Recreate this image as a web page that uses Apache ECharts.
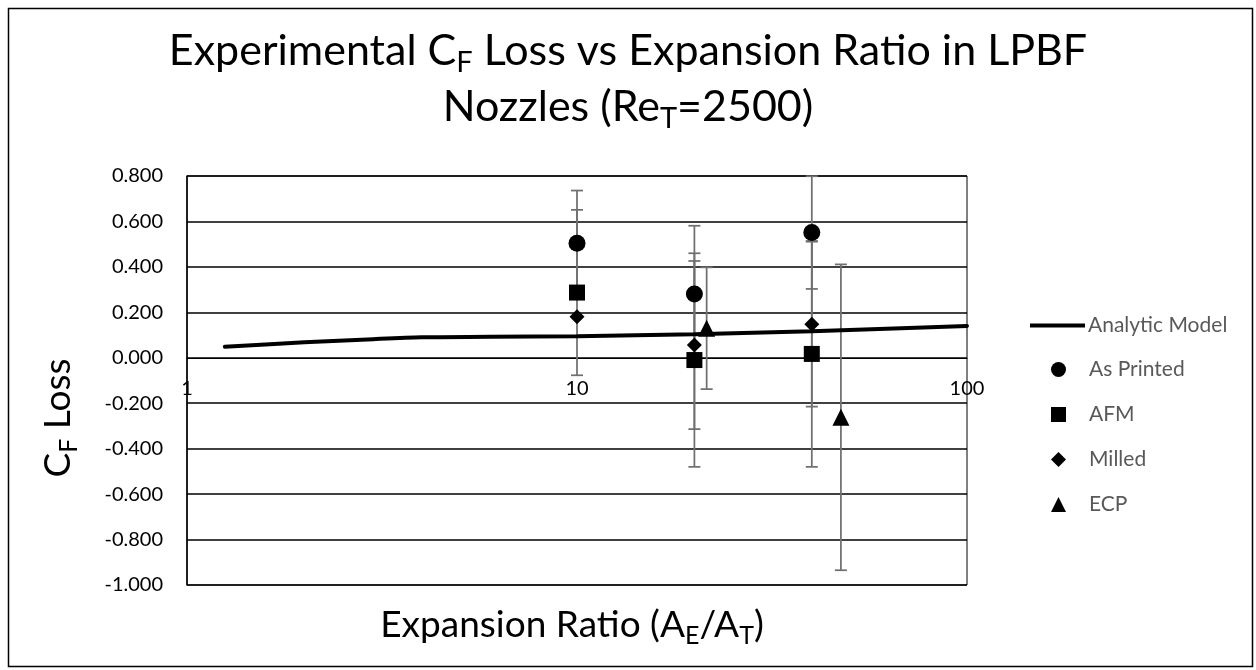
<!DOCTYPE html>
<html>
<head>
<meta charset="utf-8">
<script src="https://cdn.jsdelivr.net/npm/echarts@6/dist/echarts.min.js"></script>
<style>
  html, body { margin: 0; padding: 0; background: #fff; }
  #chart { width: 1256px; height: 670px; }
</style>
</head>
<body>
<div id="chart"></div>
<script>
// analytic model curve
const analyticX = [1.25, 2, 3, 4, 6, 10, 20, 40, 100];
const analyticY = [0.049, 0.068, 0.082, 0.090, 0.092, 0.095, 0.104, 0.117, 0.140];

// experimental points: expansion ratio, CF loss, +/- error
const printedX = [10, 20, 40];
const printedY = [0.504, 0.281, 0.551];
const printedErr = [0.232, 0.300, 0.248];

const afmX = [10, 20, 40];
const afmY = [0.287, -0.010, 0.017];
const afmErr = [0.364, 0.470, 0.497];

const milledX = [10, 20, 40];
const milledY = [0.181, 0.056, 0.148];
const milledErr = [0, 0.370, 0.363];

const ecpX = [21.5, 47.5];
const ecpY = [0.130, -0.262];
const ecpErr = [0.268, 0.673];

const yTicks = { min: -1, max: 0.8, step: 0.2 };

const FONT = 'Lato';
const chart = echarts.init(document.getElementById('chart'));

const pts = (xs, ys) => xs.map((x, i) => [x, ys[i]]);
const errs = (xs, ys, es) => xs.map((x, i) => [x, ys[i], es[i]]);

function errorSeries(name, data) {
  return {
    name: name + ' err',
    type: 'custom',
    z: 2,
    silent: true,
    data: data,
    renderItem: function (params, api) {
      const x = api.value(0), y = api.value(1), e = api.value(2);
      if (!e) return null;
      const hi = api.coord([x, y + e]);
      const lo = api.coord([x, y - e]);
      const cap = 6;
      const style = { stroke: '#707070', lineWidth: 1.75 };
      return {
        type: 'group',
        children: [
          { type: 'line', shape: { x1: hi[0], y1: hi[1], x2: lo[0], y2: lo[1] }, style },
          { type: 'line', shape: { x1: hi[0] - cap, y1: hi[1], x2: hi[0] + cap, y2: hi[1] }, style },
          { type: 'line', shape: { x1: lo[0] - cap, y1: lo[1], x2: lo[0] + cap, y2: lo[1] }, style }
        ]
      };
    }
  };
}

function markerSeries(name, symbol, size, data) {
  return {
    name: name,
    type: 'scatter',
    z: 4,
    symbol: symbol,
    symbolSize: size,
    itemStyle: { color: '#000', opacity: 1 },
    data: data
  };
}

// rich styles for text with a subscript (sub pushed down with top padding)
const subRich = (size) => {
  const sub = Math.round(size * 0.68);
  return {
    a: { fontFamily: FONT, fontSize: size, color: '#000', lineHeight: Math.round(size * 1.4), verticalAlign: 'top' },
    s: { fontFamily: FONT, fontSize: sub, color: '#000', lineHeight: sub, verticalAlign: 'top',
         padding: [Math.round(size * 0.42), 0, 0, 0] }
  };
};

const option = {
  animation: false,
  backgroundColor: '#fff',
  graphic: [
    {
      type: 'rect', left: 6, top: 6, z: 0,
      shape: { width: 1244, height: 658 },
      style: { fill: 'none', stroke: '#000', lineWidth: 1.5 }
    },
    {
      type: 'text', x: 628, y: 60, z: 10,
      style: {
        text: '{a|Experimental C}{s|F}{a| Loss vs Expansion Ratio in LPBF}',
        rich: subRich(43), align: 'center', verticalAlign: 'middle'
      }
    },
    {
      type: 'text', x: 628, y: 116, z: 10,
      style: {
        text: '{a|Nozzles (Re}{s|T}{a|=2500)}',
        rich: subRich(43), align: 'center', verticalAlign: 'middle'
      }
    },
    {
      type: 'text', x: 572, y: 633, z: 10,
      style: {
        text: '{a|Expansion Ratio (A}{s|E}{a|/A}{s|T}{a|)}',
        rich: subRich(37), align: 'center', verticalAlign: 'middle'
      }
    },
    {
      type: 'text', x: 66, y: 418, z: 10, rotation: Math.PI / 2,
      style: {
        text: '{a|C}{s|F}{a| Loss}',
        rich: subRich(37), align: 'center', verticalAlign: 'middle'
      }
    }
  ],
  grid: {
    left: 187, top: 176, right: 289, bottom: 85,
    show: true, borderColor: '#000', borderWidth: 1
  },
  legend: [
    {
      data: [{ name: 'Analytic Model', icon: 'rect' }],
      orient: 'vertical',
      left: 1025, top: 310,
      itemWidth: 55, itemHeight: 4,
      textStyle: { fontFamily: FONT, fontSize: 21, color: '#595959', padding: [0, 0, 0, -2] }
    },
    {
      data: ['As Printed', 'AFM', 'Milled', 'ECP'],
      orient: 'vertical',
      left: 1046, top: 354,
      itemWidth: 15, itemHeight: 15, itemGap: 24,
      textStyle: { fontFamily: FONT, fontSize: 21, color: '#595959', padding: [0, 0, 0, 18] }
    }
  ],
  xAxis: {
    type: 'log',
    logBase: 10,
    min: 1,
    max: 100,
    offset: -227,
    axisLine: { show: true, onZero: false, lineStyle: { color: '#000', width: 1 } },
    axisTick: { show: false },
    axisLabel: { fontFamily: FONT, fontSize: 20, color: '#000', margin: 21 },
    splitLine: { show: false },
    minorSplitLine: { show: false }
  },
  yAxis: {
    type: 'value',
    min: yTicks.min,
    max: yTicks.max,
    interval: yTicks.step,
    axisLine: { show: true, lineStyle: { color: '#000', width: 1.5 } },
    axisTick: { show: false },
    axisLabel: {
      fontFamily: FONT, fontSize: 20, color: '#000', margin: 24,
      formatter: v => v.toFixed(3)
    },
    splitLine: { show: true, lineStyle: { color: '#000', width: 1.5 } }
  },
  series: [
    {
      name: 'Analytic Model',
      type: 'line',
      z: 3,
      smooth: 0.3,
      symbol: 'none',
      lineStyle: { color: '#000', width: 4, cap: 'round' },
      itemStyle: { color: '#000' },
      data: pts(analyticX, analyticY)
    },
    errorSeries('As Printed', errs(printedX, printedY, printedErr)),
    errorSeries('AFM', errs(afmX, afmY, afmErr)),
    errorSeries('Milled', errs(milledX, milledY, milledErr)),
    errorSeries('ECP', errs(ecpX, ecpY, ecpErr)),
    markerSeries('As Printed', 'circle', 17, pts(printedX, printedY)),
    markerSeries('AFM', 'rect', 16, pts(afmX, afmY)),
    markerSeries('Milled', 'diamond', 15, pts(milledX, milledY)),
    markerSeries('ECP', 'triangle', 17, pts(ecpX, ecpY))
  ]
};

chart.setOption(option);
</script>
</body>
</html>
